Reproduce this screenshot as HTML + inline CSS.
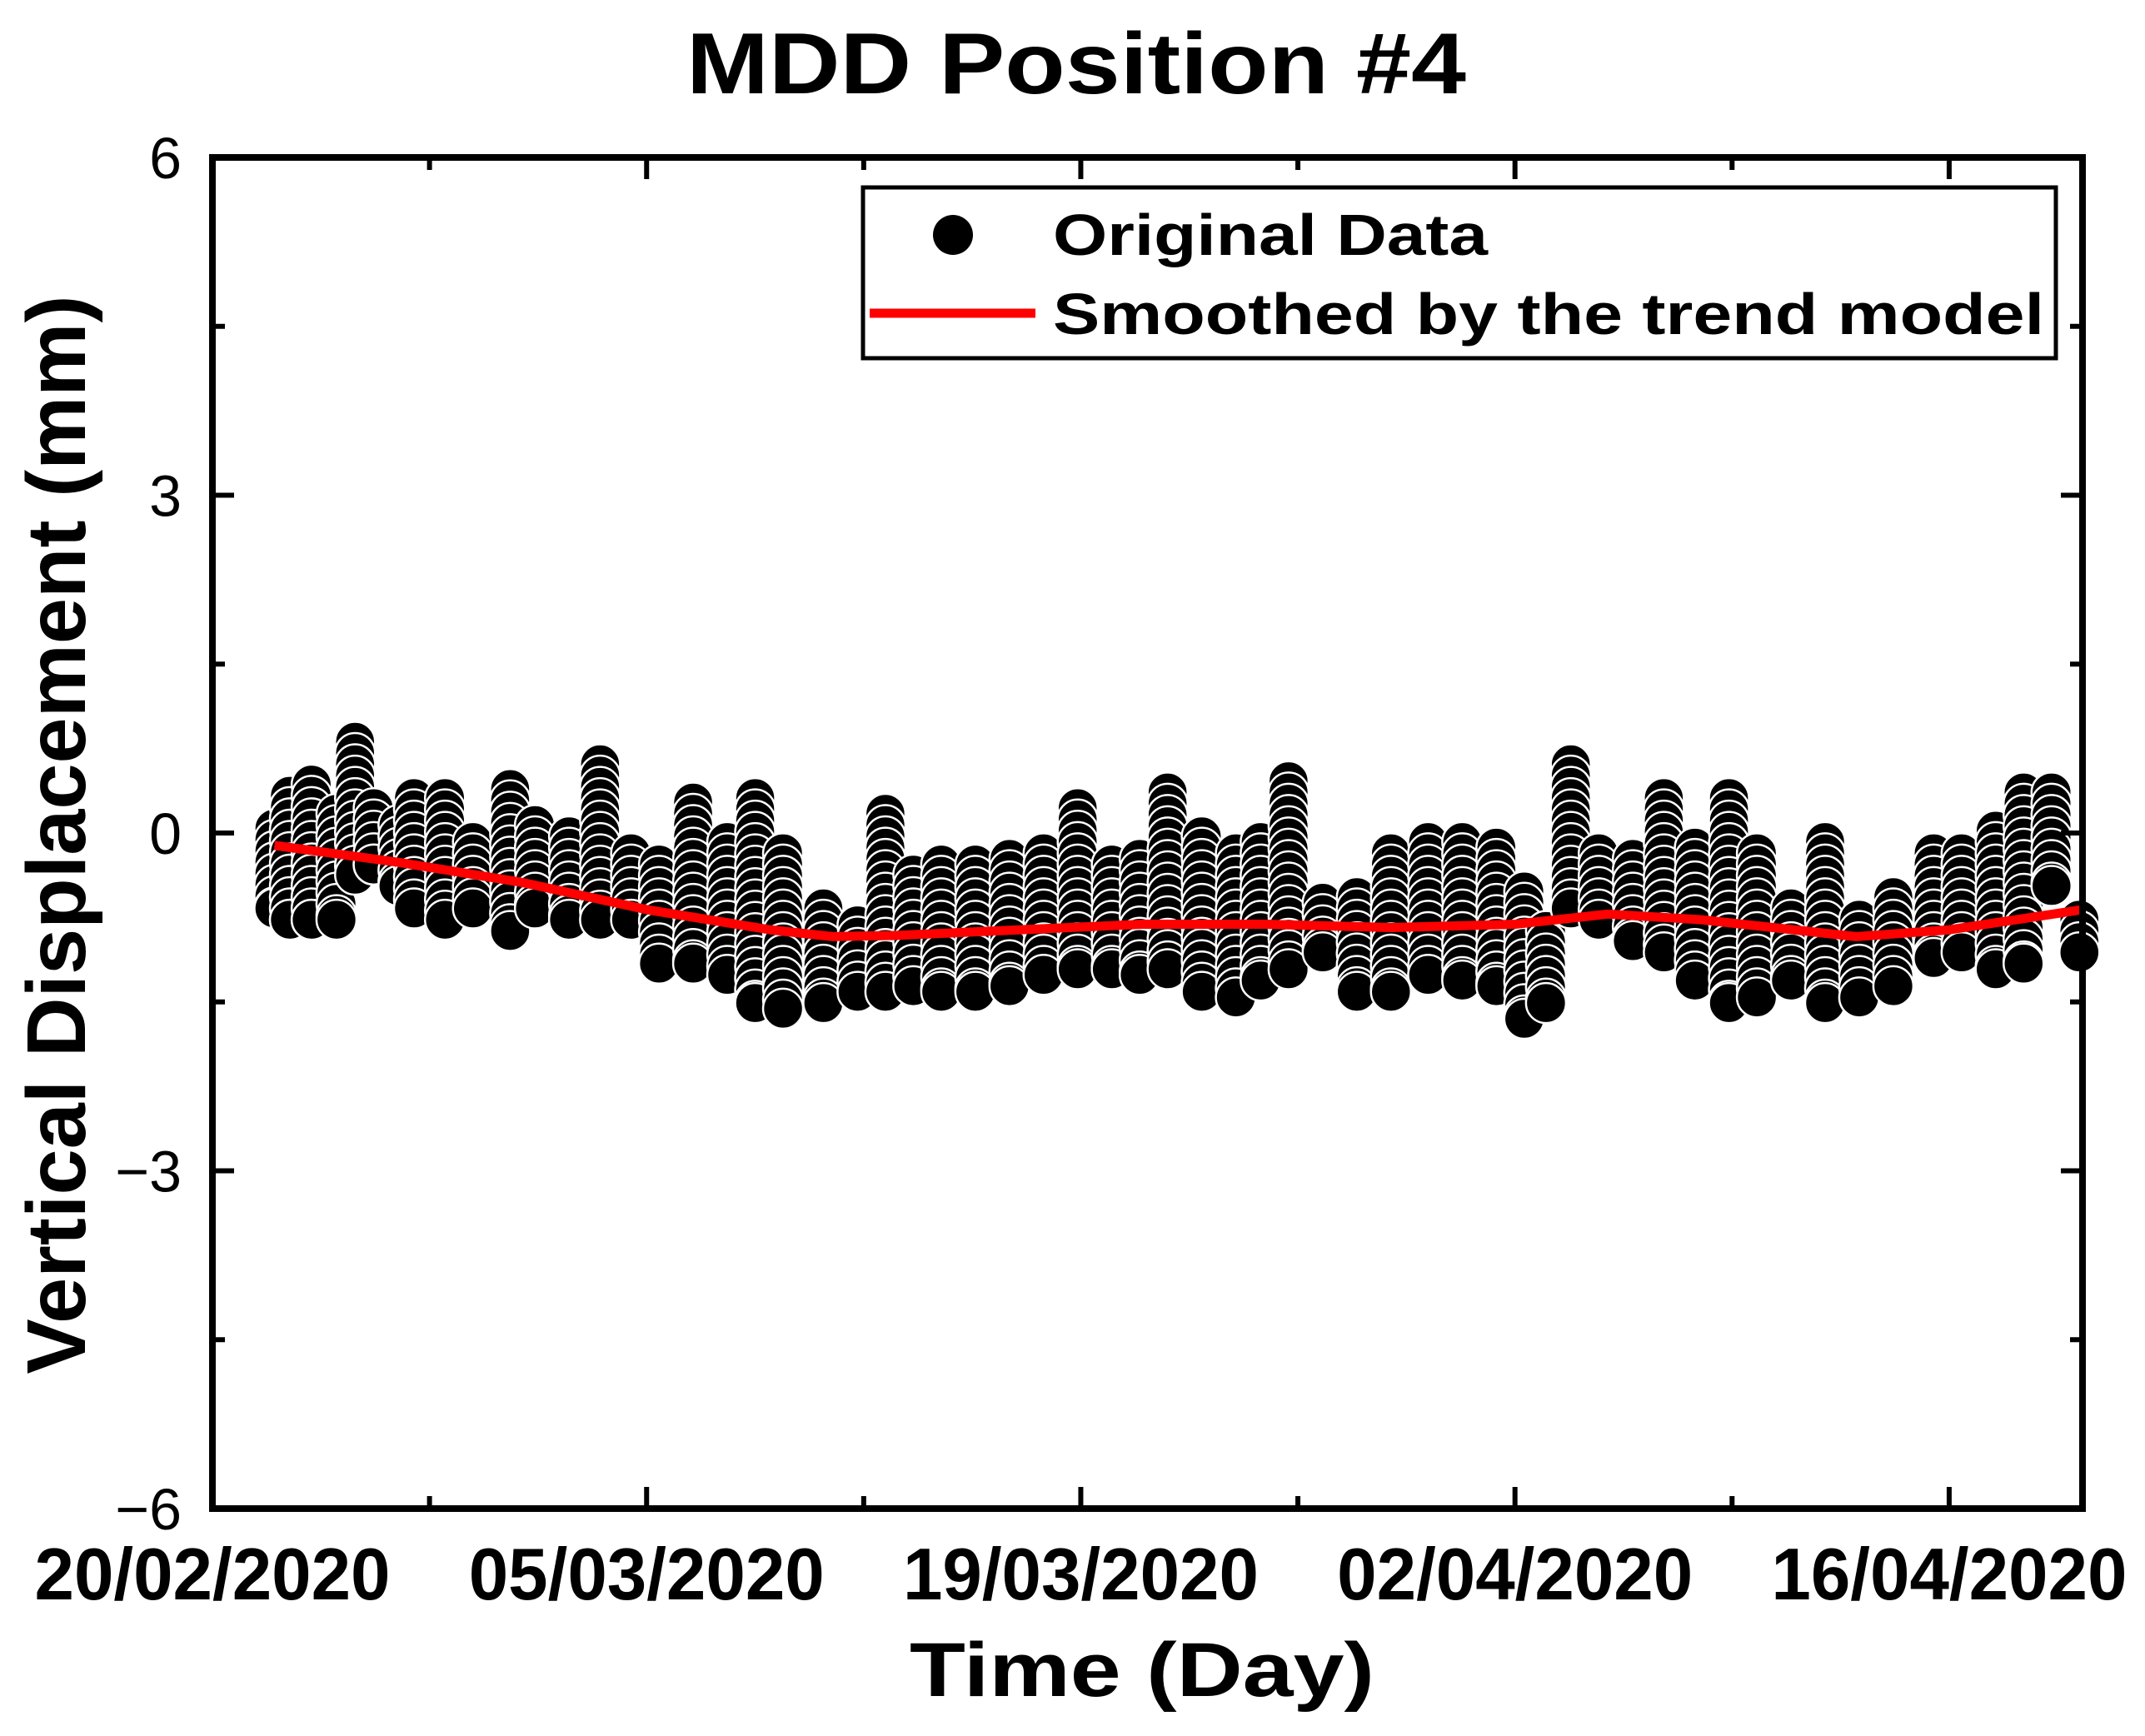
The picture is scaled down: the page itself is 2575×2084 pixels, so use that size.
<!DOCTYPE html>
<html><head><meta charset="utf-8"><style>
html,body{margin:0;padding:0;background:#fff;}
svg{display:block;}
text{font-family:"Liberation Sans",sans-serif;}
</style></head><body>
<svg id="chart" width="2575" height="2084" viewBox="0 0 2575 2084" xmlns="http://www.w3.org/2000/svg">
<text x="1292" y="112" text-anchor="middle" font-size="104" font-weight="bold" textLength="936" lengthAdjust="spacingAndGlyphs">MDD Position #4</text>
<g id="plot"></g>
<g id="axes"></g>
<text x="1371" y="2036" text-anchor="middle" font-size="92" font-weight="bold" textLength="558" lengthAdjust="spacingAndGlyphs">Time (Day)</text>
<text transform="translate(102,1002) rotate(-90)" text-anchor="middle" font-size="100" font-weight="bold" textLength="1295" lengthAdjust="spacingAndGlyphs">Vertical Displacement (mm)</text>
<g>
<rect x="1036" y="225" width="1432" height="205" fill="#fff" stroke="#000" stroke-width="5"/>
<circle cx="1144" cy="282" r="24" fill="#000"/>
<text x="1264" y="306" font-size="70" font-weight="bold" textLength="522" lengthAdjust="spacingAndGlyphs">Original Data</text>
<line x1="1044" y1="376" x2="1243" y2="376" stroke="#f00" stroke-width="11"/>
<text x="1264" y="401" font-size="70" font-weight="bold" textLength="1190" lengthAdjust="spacingAndGlyphs">Smoothed by the trend model</text>
</g>
</svg>
<script>
// cluster columns of original data (day since 20/02/2020, top and bottom of cluster in mm)
const colDays = [2,2.5,3.2,4,4.6,5.2,6,6.5,7.5,8.4,9.6,10.4,11.5,12.5,13.5,14.4,15.5,16.6,17.5,18.4,19.7,20.8,21.7,22.6,23.5,24.6,25.7,26.8,27.9,29,29.9,30.8,31.9,33,33.8,34.7,35.8,36.9,38,39.2,40.3,41.4,42.3,43,43.8,44.7,45.8,46.8,47.8,48.9,49.8,50.9,52,53.1,54.2,55.5,56.4,57.5,58.4,59.3,60.2];
const colHigh = [0.04,0.33,0.43,0.17,0.81,0.22,0.07,0.31,0.31,-0.08,0.39,0.07,-0.03,0.61,-0.18,-0.28,0.27,-0.08,0.31,-0.18,-0.67,-0.82,0.17,-0.37,-0.28,-0.28,-0.23,-0.18,0.22,-0.28,-0.23,0.36,-0.03,-0.18,-0.08,0.46,-0.62,-0.57,-0.18,-0.08,-0.08,-0.13,-0.52,-0.87,0.61,-0.18,-0.23,0.31,-0.13,0.31,-0.18,-0.67,-0.08,-0.77,-0.57,-0.18,-0.18,0.02,0.36,0.36,-0.77];
const colLow = [-0.67,-0.77,-0.77,-0.77,-0.37,-0.28,-0.47,-0.67,-0.77,-0.67,-0.87,-0.67,-0.77,-0.77,-0.77,-1.16,-1.16,-1.26,-1.51,-1.56,-1.51,-1.41,-1.41,-1.36,-1.41,-1.41,-1.36,-1.26,-1.21,-1.21,-1.26,-1.21,-1.41,-1.46,-1.31,-1.21,-1.06,-1.41,-1.41,-1.26,-1.31,-1.36,-1.65,-1.51,-0.67,-0.77,-0.96,-1.06,-1.31,-1.51,-1.46,-1.31,-1.51,-1.46,-1.36,-1.11,-1.06,-1.21,-1.16,-0.47,-1.06];
// smoothed trend line
const trendDays = [2,6,10,14,18,20,22,26,30,34,38,42,45,48,51,53,56,60.3];
const trendVals = [-0.11,-0.26,-0.44,-0.68,-0.86,-0.92,-0.91,-0.86,-0.81,-0.81,-0.84,-0.81,-0.72,-0.77,-0.86,-0.92,-0.86,-0.68];
const xTickDays = [0,14,28,42,56];
const xTickLabels = ["20/02/2020","05/03/2020","19/03/2020","02/04/2020","16/04/2020"];
const xMinorDays = [7,21,35,49];
const yTicks = [6,3,0,-3,-6];
const yTickLabels = ["6","3","0","\u22123","\u22126"];
const yMinor = [4.5,1.5,-1.5,-4.5];

const L=255,R=2500,T=189,B=1811,DMAX=60.3;
const NS="http://www.w3.org/2000/svg";
const xs=d=>L+(R-L)*d/DMAX;
const ys=v=>T+(B-T)*(6-v)/12;
function mk(tag,attrs,parent){const e=document.createElementNS(NS,tag);for(const k in attrs)e.setAttribute(k,attrs[k]);parent.appendChild(e);return e;}
const plot=document.getElementById('plot'),axes=document.getElementById('axes');

colDays.forEach((d,i)=>{
  const g=mk('g',{},plot);
  
  
  const step=0.1;
  for(let v=colHigh[i];v>=colLow[i]-1e-6;v-=step){
    const c=mk('circle',{cx:xs(d),cy:ys(v),r:24,fill:'#000',stroke:'#fff','stroke-width':2.5},g);
    
    
  }
  const c=mk('circle',{cx:xs(d),cy:ys(colLow[i]),r:24,fill:'#000',stroke:'#fff','stroke-width':2.5},g);
  
  
});
const pts=trendDays.map((d,i)=>xs(d)+','+ys(trendVals[i])).join(' ');
const pl=mk('polyline',{points:pts,fill:'none',stroke:'#f00','stroke-width':11,'stroke-linejoin':'round'},plot);



const fr=mk('rect',{x:L,y:T,width:R-L,height:B-T,fill:'none',stroke:'#000','stroke-width':8},axes);


xTickDays.forEach((d,i)=>{
  const x=xs(d);
  mk('line',{x1:x,y1:B,x2:x,y2:B-26,stroke:'#000','stroke-width':6},axes);
  mk('line',{x1:x,y1:T,x2:x,y2:T+26,stroke:'#000','stroke-width':6},axes);
  const t=mk('text',{x:x,y:1920,'text-anchor':'middle','font-size':88,'font-weight':'bold',textLength:427,lengthAdjust:'spacingAndGlyphs'},axes);
  t.textContent=xTickLabels[i];
  
  
});
xMinorDays.forEach(d=>{
  const x=xs(d);
  mk('line',{x1:x,y1:B,x2:x,y2:B-15,stroke:'#000','stroke-width':6},axes);
  mk('line',{x1:x,y1:T,x2:x,y2:T+15,stroke:'#000','stroke-width':6},axes);
});
yTicks.forEach((v,i)=>{
  const y=ys(v);
  mk('line',{x1:L,y1:y,x2:L+26,y2:y,stroke:'#000','stroke-width':6},axes);
  mk('line',{x1:R,y1:y,x2:R-26,y2:y,stroke:'#000','stroke-width':6},axes);
  const t=mk('text',{x:218,y:y+25,'text-anchor':'end','font-size':70},axes);
  t.textContent=yTickLabels[i];
  
  
});
yMinor.forEach(v=>{
  const y=ys(v);
  mk('line',{x1:L,y1:y,x2:L+15,y2:y,stroke:'#000','stroke-width':6},axes);
  mk('line',{x1:R,y1:y,x2:R-15,y2:y,stroke:'#000','stroke-width':6},axes);
});
</script>
</body></html>
